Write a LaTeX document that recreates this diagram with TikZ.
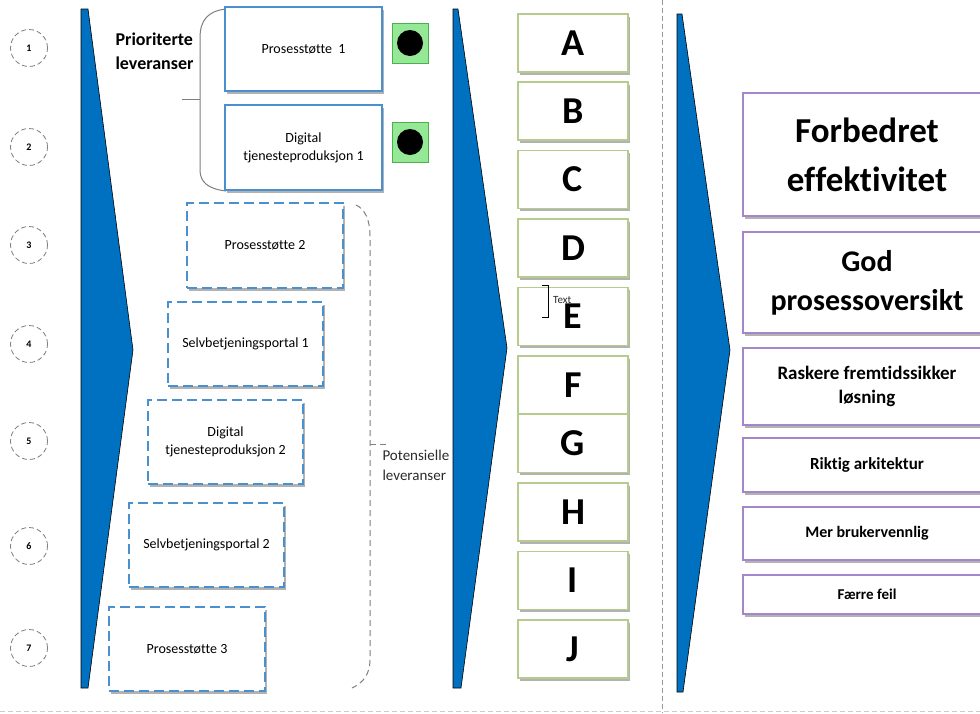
\documentclass[tikz,border=0pt]{standalone}
\usepackage{fontspec}
\setmainfont{Carlito}[Ligatures={NoCommon}]
\definecolor{triblue}{HTML}{0070C0}
\definecolor{boxblue}{HTML}{4A90D0}
\definecolor{boxgreen}{HTML}{B5CC8E}
\definecolor{boxpurple}{HTML}{A585CC}
\definecolor{sqgreen}{HTML}{95E895}
\definecolor{sqedge}{HTML}{4CB04C}
\definecolor{bracegray}{HTML}{7F7F7F}
\definecolor{txtgray}{HTML}{2A2A2A}
\newcommand{\fs}[2]{\fontsize{#1}{#2}\selectfont}
\begin{document}
\begin{tikzpicture}[x=1pt,y=-1pt,
  numcirc/.style={circle, draw=bracegray, dashed, dash pattern=on 5pt off 3pt, line width=0.8pt, minimum size=37pt, inner sep=0pt, font=\bfseries\fs{10}{12}},
  myshadow/.style={preaction={draw=none, fill=black!30, transform canvas={xshift=2pt, yshift=-2.5pt}}},
  solidbox/.style={draw=boxblue, line width=1.2pt, fill=white, myshadow, align=center, inner sep=0pt, font=\fs{14}{18}},
  dashbox/.style={solidbox, draw=boxblue, dash pattern=on 10pt off 5pt},
  letterbox/.style={draw=boxgreen, line width=1.1pt, fill=white, myshadow, inner sep=0pt, minimum width=110pt, minimum height=58pt, font=\bfseries\fs{38}{40}},
  goalbox/.style={draw=boxpurple, line width=1.1pt, fill=white, myshadow, inner sep=0pt, minimum width=248pt, align=center},
  greensq/.style={draw=sqedge, fill=sqgreen, line width=0.8pt, minimum width=36pt, minimum height=40pt, inner sep=0pt},
  dot/.style={circle, fill=black, minimum size=26pt, inner sep=0pt},
  tri/.style={fill=triblue, draw=black, line width=0.6pt},
  sep/.style={draw=bracegray!80, dashed, dash pattern=on 5pt off 3pt, line width=0.8pt},
  bracel/.style={draw=bracegray, line width=1pt},
  dashbrace/.style={draw=bracegray, line width=1pt, dash pattern=on 6pt off 4pt}
]
\clip (0,0) rectangle (980,713);
\fill[white] (0,0) rectangle (980,713);

% separators
\draw[sep] (662,0) -- (662,713);
\draw[sep, draw=bracegray!40] (0,711) -- (980,711);

% number circles
\node[numcirc] (n1) at (29,48) {1};
\node[numcirc] (n2) at (29,147) {2};
\node[numcirc] (n3) at (29,245) {3};
\node[numcirc] (n4) at (29,344) {4};
\node[numcirc] (n5) at (29,441) {5};
\node[numcirc] (n6) at (29,546) {6};
\node[numcirc] (n7) at (29,648) {7};

% triangles
\draw[tri] (81,9) -- (88,9) -- (133,350) -- (88,688) -- (81,688) -- cycle;
\draw[tri] (453,9) -- (458,9) -- (507,348) -- (461,688) -- (453,688) -- cycle;
\draw[tri] (677,14) -- (682,14) -- (730,350) -- (683,692) -- (677,692) -- cycle;

% prioritized
\node[anchor=west, align=left, font=\bfseries\fs{18}{24}] (prio) at (112,51) {Prioriterte\\leveranser};
\draw[bracel] (226,9) .. controls (208,11) and (200,20) .. (200,38) -- (200,170) .. controls (200,182) and (208,189) .. (226,191);
\coordinate (bmid) at (200,99);
\coordinate (btick) at (182,99);
\draw[bracel] (btick) -- (bmid);

\node[solidbox, minimum width=157pt, minimum height=84pt] (p1) at (303.5,49) {Prosesstøtte\ \ 1};
\node[solidbox, minimum width=157pt, minimum height=85pt] (d1) at (303.5,147.5) {Digital\\tjenesteproduksjon 1};
\node[greensq] (g1) at (410,43) {};
\node[dot] (dot1) at (g1.center) {};
\node[greensq] (g2) at (410,142) {};
\node[dot] (dot2) at (g2.center) {};

% potential
\node[dashbox, minimum width=156pt, minimum height=85pt] (p2) at (265,245.5) {Prosesstøtte 2};
\node[dashbox, minimum width=155pt, minimum height=84pt] (s1) at (245.5,344) {Selvbetjeningsportal 1};
\node[dashbox, minimum width=155pt, minimum height=84pt] (d2) at (225.5,442) {Digital\\tjenesteproduksjon 2};
\node[dashbox, minimum width=155pt, minimum height=84pt] (s2) at (206.5,545) {Selvbetjeningsportal 2};
\node[dashbox, minimum width=156pt, minimum height=84pt] (p3) at (187,649) {Prosesstøtte 3};

\draw[dashbrace] (356,205) .. controls (365,209) and (370,220) .. (370,236) -- (370,660) .. controls (370,674) and (363,683) .. (352,688);
\coordinate (pmid) at (370,444);
\coordinate (ptick) at (389,444);
\draw[dashbrace] (pmid) -- (ptick);
\node[anchor=north west, align=left, text=txtgray, font=\fs{15}{20}] (pot) at (379,447) {Potensielle\\leveranser};

% letters
\node[letterbox] (A) at (573,43) {A};
\node[letterbox] (B) at (573,111) {B};
\node[letterbox] (C) at (573,179.5) {C};
\node[letterbox] (D) at (573,248) {D};
\node[letterbox] (E) at (573,316.5) {\raisebox{-4pt}{E}};
\node[letterbox] (F) at (573,385) {F};
\node[letterbox] (G) at (573,443.5) {G};
\node[letterbox] (H) at (573,512) {H};
\node[letterbox] (I) at (573,580.5) {I};
\node[letterbox] (J) at (573,649) {J};
\draw[draw=black, line width=0.7pt] (542,285) -- (548,285) -- (548,317) -- (542,317);
\node[anchor=west, text=txtgray, font=\fs{11}{13}, inner sep=0pt] (txt) at (553,300) {Text};

% goals
\node[goalbox, minimum height=123pt, font=\bfseries\fs{35}{49}] (g1b) at (867,154.5) {Forbedret\\effektivitet};
\node[goalbox, minimum height=101pt, font=\bfseries\fs{30}{39}] (g2b) at (867,282.5) {God\\prosessoversikt};
\node[goalbox, minimum height=77pt, font=\bfseries\fs{19}{24}] (g3b) at (867,386.5) {Raskere fremtidssikker\\løsning};
\node[goalbox, minimum height=54pt, font=\bfseries\fs{17}{20}] (g4b) at (867,465) {Riktig arkitektur};
\node[goalbox, minimum height=53pt, font=\bfseries\fs{16}{20}] (g5b) at (867,533.5) {Mer brukervennlig};
\node[goalbox, minimum height=39pt, font=\bfseries\fs{15}{18}] (g6b) at (867,594.5) {Færre feil};
\end{tikzpicture}
\end{document}
